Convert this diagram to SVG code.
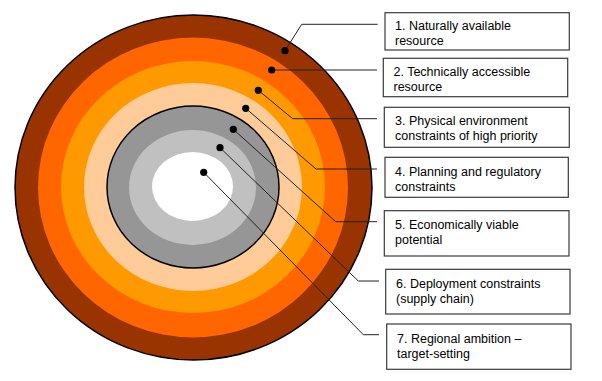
<svg xmlns="http://www.w3.org/2000/svg" width="602" height="381" viewBox="0 0 602 381">
<style>
.box{fill:#fff;stroke:#3a3a3a;stroke-width:1.2}
.t{font-family:"Liberation Sans",Arial,sans-serif;font-size:12.5px;fill:#000}
.ln{fill:none;stroke:#222;stroke-width:1}
.dot{fill:#000}
</style>
<rect width="602" height="381" fill="#fff"/>
<g id="rings">
<ellipse cx="193.5" cy="187.5" rx="178.5" ry="172.5" fill="#993300" stroke="#000" stroke-width="1.5"/>
<ellipse cx="193" cy="187.5" rx="155" ry="150" fill="#FF6600"/>
<ellipse cx="193" cy="187" rx="132" ry="126" fill="#FF9900"/>
<ellipse cx="193" cy="187" rx="109" ry="104" fill="#FFCC99"/>
<ellipse cx="193" cy="187" rx="86" ry="81" fill="#969696" stroke="#000" stroke-width="1.5"/>
<ellipse cx="192.5" cy="187.5" rx="63.5" ry="57.5" fill="#C0C0C0"/>
<ellipse cx="192.5" cy="186.5" rx="40.5" ry="34.5" fill="#fff"/>
</g>
<g id="connectors">
<polyline class="ln" points="285,50.7 301.7,24.3 377.7,24.3"/>
<polyline class="ln" points="271.7,70 377,70"/>
<polyline class="ln" points="258.3,90.3 292.7,118.7 377,118.7"/>
<polyline class="ln" points="245.7,108.3 316,169 377,169"/>
<polyline class="ln" points="233.3,129.3 335.7,221.7 377,221.7"/>
<polyline class="ln" points="220,147.7 358.3,281 379,281"/>
<polyline class="ln" points="203.7,172.3 363.3,334.7 379,334.7"/>
<circle class="dot" cx="285" cy="50.7" r="3.6"/>
<circle class="dot" cx="271.7" cy="70" r="3.6"/>
<circle class="dot" cx="258.3" cy="90.3" r="3.6"/>
<circle class="dot" cx="245.7" cy="108.3" r="3.6"/>
<circle class="dot" cx="233.3" cy="129.3" r="3.6"/>
<circle class="dot" cx="220" cy="147.7" r="3.6"/>
<circle class="dot" cx="203.7" cy="172.3" r="3.6"/>
</g>
<g id="n1"><rect class="box" x="385" y="12.7" width="184.3" height="37.3"/>
<text class="t" x="395" y="29.5">1. Naturally available</text><text class="t" x="395" y="45">resource</text></g>
<g id="n2"><rect class="box" x="383.3" y="58.3" width="184.4" height="38.4"/>
<text class="t" x="393.5" y="76">2. Technically accessible</text><text class="t" x="393.5" y="91">resource</text></g>
<g id="n3"><rect class="box" x="384.3" y="107.3" width="185" height="40"/>
<text class="t" x="395" y="125.3">3. Physical environment</text><text class="t" x="395" y="140.3">constraints of high priority</text></g>
<g id="n4"><rect class="box" x="385" y="157.3" width="183.3" height="40"/>
<text class="t" x="395" y="175.7">4. Planning and regulatory</text><text class="t" x="395" y="190.7">constraints</text></g>
<g id="n5"><rect class="box" x="384.3" y="210.7" width="184.7" height="45.3"/>
<text class="t" x="395" y="229">5. Economically viable</text><text class="t" x="395" y="244">potential</text></g>
<g id="n6"><rect class="box" x="385.7" y="269.3" width="184.3" height="44.7"/>
<text class="t" x="396" y="287.5">6. Deployment constraints</text><text class="t" x="396" y="302.5">(supply chain)</text></g>
<g id="n7"><rect class="box" x="386.7" y="324" width="184.3" height="45.3"/>
<text class="t" x="397" y="342.5">7. Regional ambition –</text><text class="t" x="397" y="357.5">target-setting</text></g>
</svg>
